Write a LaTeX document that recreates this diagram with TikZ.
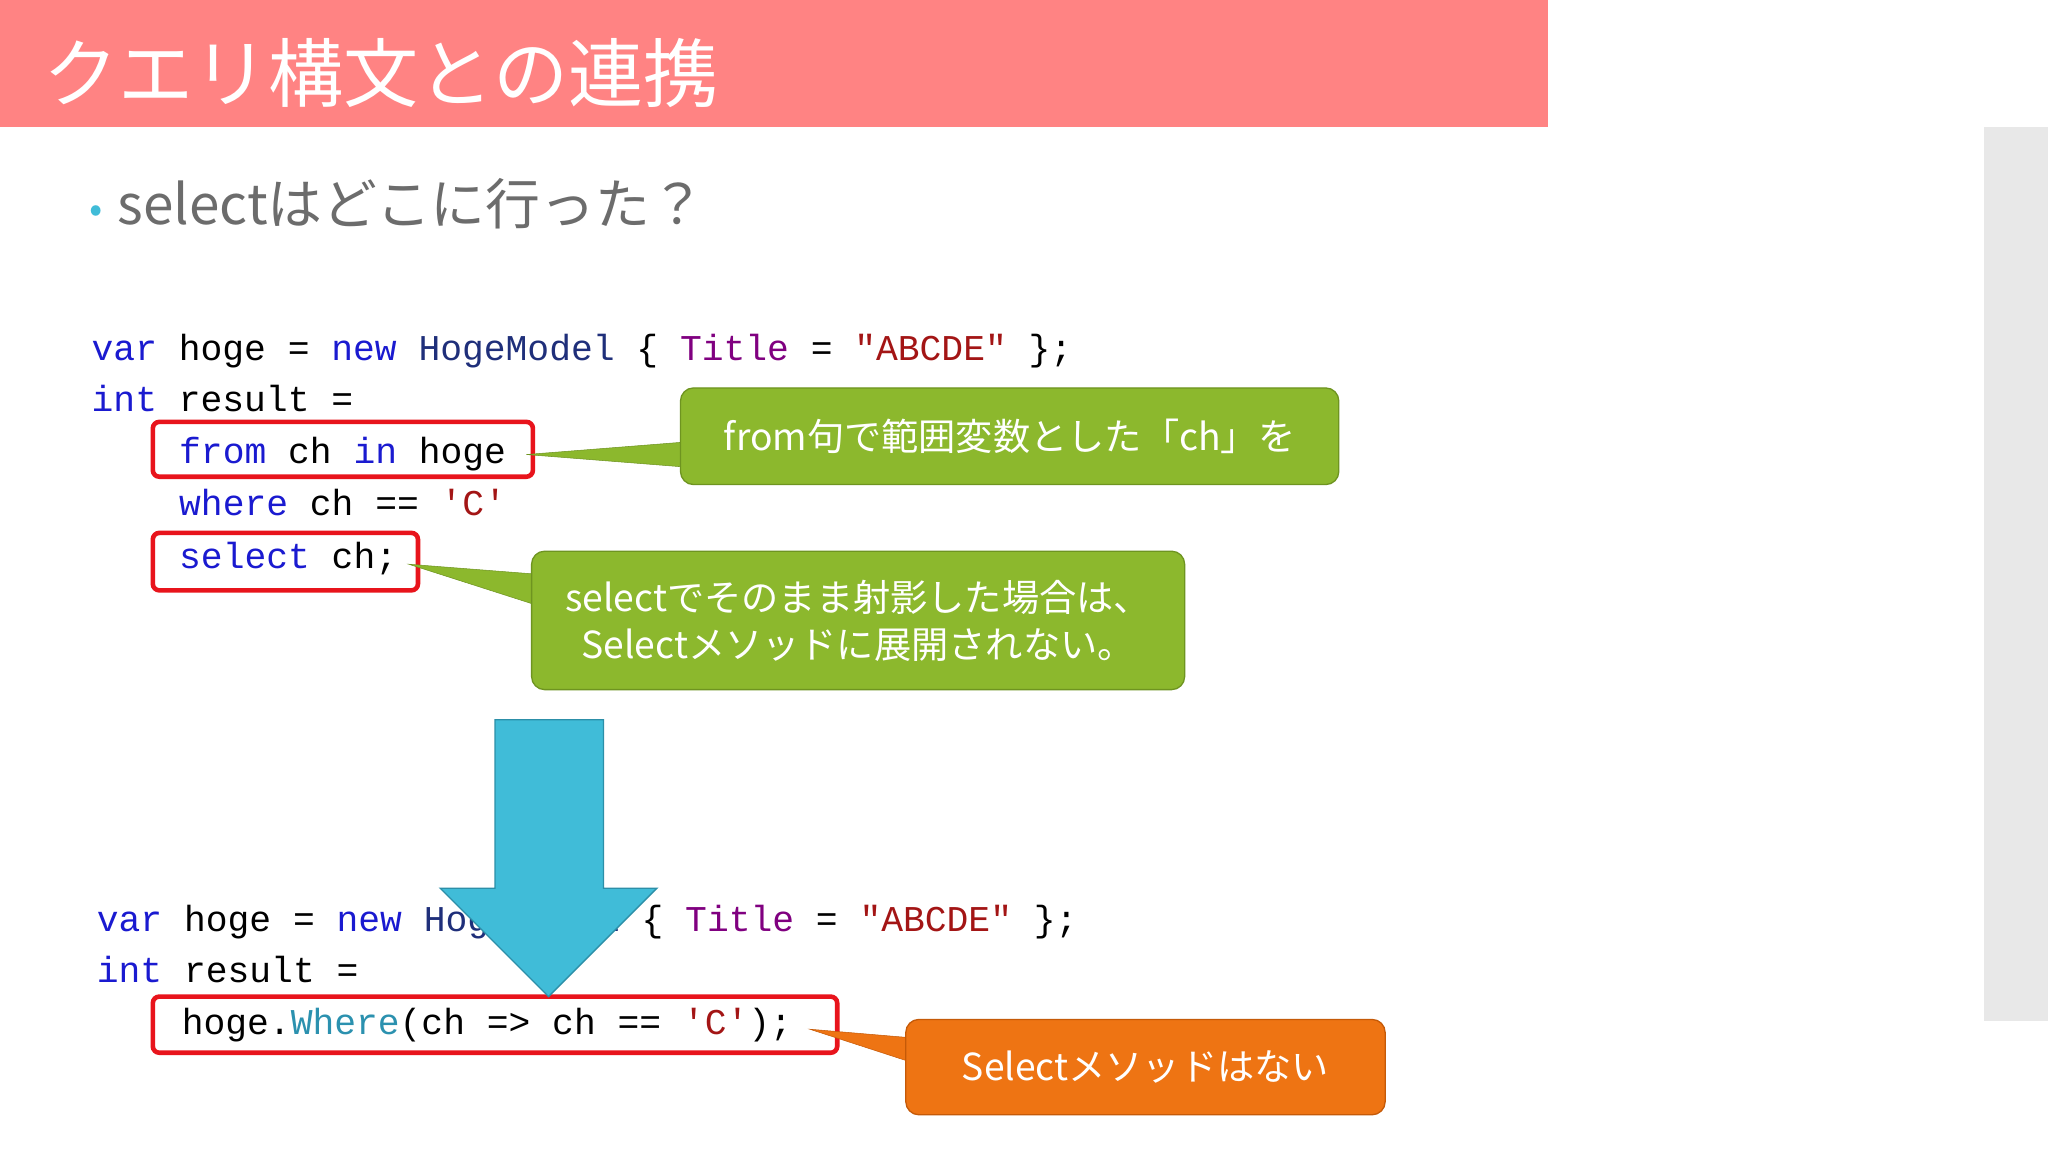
\documentclass[tikz,border=0pt]{standalone}
\usepackage{fontspec}
\setmainfont{Noto Sans CJK JP}
\setmonofont{Liberation Mono}
\definecolor{hdr}{HTML}{FF8383}
\definecolor{kw}{HTML}{1A1AD0}
\definecolor{st}{HTML}{A31515}
\definecolor{ty}{HTML}{2B91AF}
\definecolor{cls}{HTML}{1F2F7A}
\definecolor{prp}{HTML}{800080}
\definecolor{grn}{HTML}{8CB82D}
\definecolor{grnd}{HTML}{6E9420}
\definecolor{org}{HTML}{EE7413}
\definecolor{orgd}{HTML}{C55A08}
\definecolor{blu}{HTML}{40BCD8}
\definecolor{blud}{HTML}{2C8FA8}
\definecolor{redb}{HTML}{E8141C}
\tikzset{x=1pt,y=-1pt,
 code/.style={anchor=base west,inner sep=0,font=\fontsize{27.8}{30}\ttfamily},
 redbox/.style={draw=redb,line width=3.5pt,rounded corners=5pt},
 callout/.style={rounded corners=10pt,line width=1pt,text=white,font=\fontsize{28.5}{36}\selectfont,align=center}}
\newcommand{\cK}[1]{\textcolor{kw}{#1}}
\newcommand{\cS}[1]{\textcolor{st}{#1}}
\newcommand{\cT}[1]{\textcolor{ty}{#1}}
\newcommand{\cC}[1]{\textcolor{cls}{#1}}
\newcommand{\cP}[1]{\textcolor{prp}{#1}}
\begin{document}
\begin{tikzpicture}
\useasboundingbox[fill=white] (0,0) rectangle (1568,882);
\fill[hdr] (0,0) rectangle (1185,97);
\fill[gray!18] (1519,97) rectangle (1568,782);
\node[anchor=base west,inner sep=0,text=white,font=\fontsize{57.5}{60}\selectfont] (title) at (33,78) {クエリ構文との連携};
\node[anchor=base west,inner sep=0,text=blu,font=\fontsize{30}{30}\selectfont] (bul) at (68,170) {•};
\node[anchor=base west,inner sep=0,text=gray!85!black,font=\fontsize{42}{44}\selectfont] (sub) at (90,172) {selectはどこに行った？};
% code top
\node[code] (l1) at (70,276) {\cK{var} hoge = \cK{new} \cC{HogeModel} \{ \cP{Title} = \cS{"ABCDE"} \};};
\node[code] (l2) at (70,315) {\cK{int} result =};
\node[code] (l3) at (137,355) {\cK{from} ch \cK{in} hoge};
\node[code] (l4) at (137,395) {\cK{where} ch == \cS{'C'}};
\node[code] (l5) at (137,435) {\cK{select} ch;};
\draw[redbox] (117,323) rectangle (408,365);
\draw[redbox] (117,408) rectangle (320,452);
% callout 1
\coordinate (t1) at (403,348);
\filldraw[fill=grn,draw=grnd] (t1) -- (530,338) -- (530,358) -- cycle;
\node[callout,fill=grn,draw=grnd,minimum width=504,minimum height=74] (c1) at (773,334) {from句で範囲変数とした「ch」を};
% callout 2
\coordinate (t2) at (313,432);
\filldraw[fill=grn,draw=grnd] (t2) -- (416,440) -- (416,465) -- cycle;
\node[callout,fill=grn,draw=grnd,minimum width=500,minimum height=106] (c2) at (657,475) {selectでそのまま射影した場合は、\\Selectメソッドに展開されない。};
% code bottom
\node[code] (b1) at (74,713) {\cK{var} hoge = \cK{new} \cC{HogeModel} \{ \cP{Title} = \cS{"ABCDE"} \};};
\node[code] (b2) at (74,752) {\cK{int} result =};
\node[code] (b3) at (139,792) {hoge.\cT{Where}(ch => ch == \cS{'C'});};
\draw[redbox] (117,763) rectangle (641,806);
% arrow
\coordinate (atip) at (420,763);
\filldraw[fill=blu,draw=blud,line width=1pt] (379,551) -- (462,551) -- (462,680) -- (503,680) -- (atip) -- (337,680) -- (379,680) -- cycle;
% callout 3
\coordinate (t3) at (620,788);
\filldraw[fill=org,draw=orgd] (t3) -- (703,795) -- (703,815) -- cycle;
\node[callout,fill=org,draw=orgd,minimum width=367,minimum height=73] (c3) at (877,817) {Selectメソッドはない};
\end{tikzpicture}
\end{document}
